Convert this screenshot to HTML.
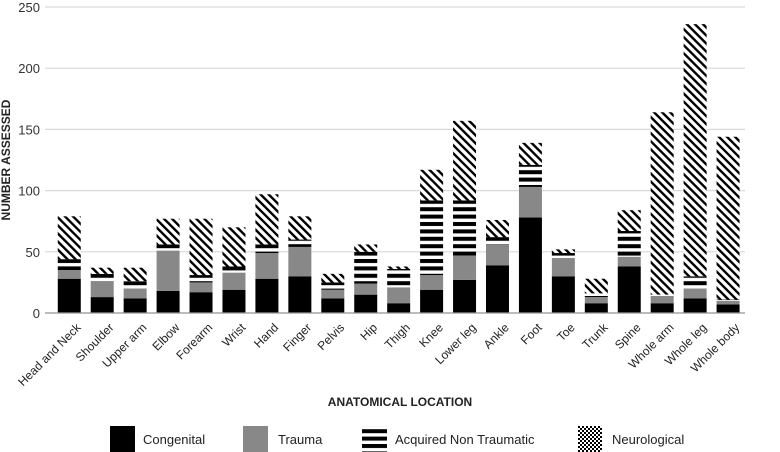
<!DOCTYPE html>
<html><head><meta charset="utf-8"><style>
body{margin:0;background:#fff;}
svg{display:block;font-family:"Liberation Sans",sans-serif;}
</style></head><body>
<svg id="chart" width="780" height="452">
<defs>
<pattern id="pANT" patternUnits="userSpaceOnUse" width="10" height="7.4"><rect width="10" height="7.4" fill="#fff"/><rect width="10" height="4" fill="#000"/></pattern>
<pattern id="pNEU" patternUnits="userSpaceOnUse" width="5.7" height="5.7" patternTransform="rotate(-45)"><rect width="5.7" height="5.7" fill="#fff"/><rect width="2.4" height="5.7" fill="#000"/></pattern>
<pattern id="pCHK" patternUnits="userSpaceOnUse" width="4" height="4"><rect width="4" height="4" fill="#fff"/><rect width="2" height="2" fill="#000"/><rect x="2" y="2" width="2" height="2" fill="#000"/></pattern>
</defs>
<g id="grid"></g><g id="bars"></g><g id="labels"></g>
<line x1="45" y1="313" x2="745" y2="313" stroke="#999" stroke-width="1.2"/>
<text x="7" y="160" transform="rotate(-90 7 160)" text-anchor="middle" dominant-baseline="middle" font-size="12" font-weight="bold" fill="#222">NUMBER ASSESSED</text>
<text x="400" y="406" text-anchor="middle" font-size="12" font-weight="bold" fill="#222">ANATOMICAL LOCATION</text>
<g>
<rect x="110" y="426" width="25" height="26" fill="#000"/>
<text x="143" y="444" font-size="13" fill="#222">Congenital</text>
<rect x="243" y="426" width="25" height="26" fill="#888"/>
<text x="278" y="444" font-size="13" fill="#222">Trauma</text>
<rect x="362" y="426" width="25" height="26" fill="url(#pANT)"/>
<text x="395" y="444" font-size="13" fill="#222">Acquired Non Traumatic</text>
<rect x="578" y="426" width="24" height="26" fill="url(#pCHK)"/>
<text x="612" y="444" font-size="13" fill="#222">Neurological</text>
</g>
</svg>
<script>
const categories=["Head and Neck","Shoulder","Upper arm","Elbow","Forearm","Wrist","Hand","Finger","Pelvis","Hip","Thigh","Knee","Lower leg","Ankle","Foot","Toe","Trunk","Spine","Whole arm","Whole leg","Whole body"];
const congenital=[28,13,12,18,17,19,28,30,12,15,8,19,27,39,78,30,8,38,8,12,7];
const trauma=[7,13,8,33,8,14,21,24,7,9,13,12,20,17,25,15,5,8,6,8,3];
const acquired=[9,6,6,5,6,5,7,6,6,26,15,61,45,6,18,4,3,21,1,10,1];
const neurological=[35,5,11,21,46,32,41,19,7,6,2,25,65,14,18,3,12,17,149,206,133];
const yTicks=[0,50,100,150,200,250];
const NS="http://www.w3.org/2000/svg";
const x0=52.8,band=32.94,bw=23,yBase=313,yTop=7,yMax=250;
function y(v){return yBase-(v/yMax)*(yBase-yTop);}
function xc(i){return x0+band*(i+0.5);}
function mk(t,a){const e=document.createElementNS(NS,t);for(const k in a)e.setAttribute(k,a[k]);return e;}
const grid=document.getElementById('grid');
yTicks.forEach(t=>{
  const l=mk('line',{x1:45,x2:745,y1:y(t),y2:y(t),stroke:'#d9d9d9','stroke-width':1.2});
  
  
  grid.appendChild(l);
  const tx=mk('text',{x:40,y:y(t)+5,'text-anchor':'end','font-size':13,fill:'#333'});
  tx.textContent=t;
  
  
  grid.appendChild(tx);
});
const series=[[congenital,'#000','congenital'],[trauma,'#888','trauma'],[acquired,'url(#pANT)','acquired'],[neurological,'url(#pNEU)','neurological']];
const bars=document.getElementById('bars'),labels=document.getElementById('labels');
categories.forEach((c,i)=>{
  let cum=0;
  series.forEach(([arr,fill,nm])=>{
    const v=arr[i];
    const r=mk('rect',{x:xc(i)-bw/2,y:y(cum+v),width:bw,height:y(cum)-y(cum+v),fill:fill});
    
    
    bars.appendChild(r);
    cum+=v;
  });
  const lx=xc(i)+6,ly=322;
  const t=mk('text',{x:lx,y:ly,'text-anchor':'end','font-size':12,fill:'#222',transform:`rotate(-45 ${lx} ${ly})`,'dominant-baseline':'hanging'});
  t.textContent=c;
  
  
  labels.appendChild(t);
});
</script>
</body></html>
